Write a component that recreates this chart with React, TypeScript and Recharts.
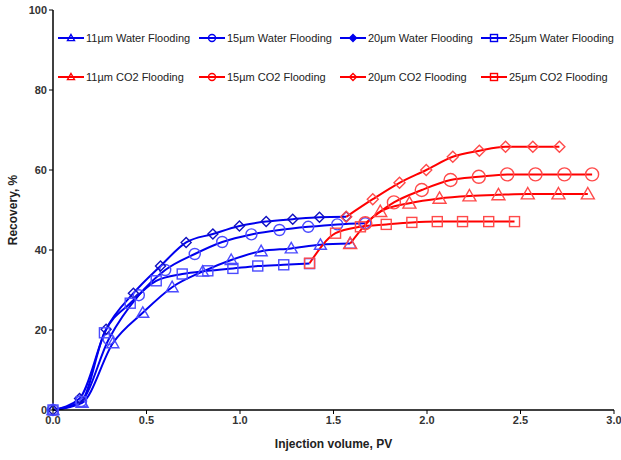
import React from "react";
import { LineChart, Line, XAxis, YAxis, Legend } from "recharts";

type Pt = { pv: number; rec: number };
const pts = (arr: number[][]): Pt[] => arr.map(([pv, rec]) => ({ pv, rec }));

// water flooding
const water11 = pts([[0, 0], [0.156, 1.8], [0.32, 16.7], [0.48, 24.3], [0.637, 30.7], [0.8, 34.6], [0.953, 37.5], [1.113, 39.7], [1.274, 40.4], [1.43, 41.3], [1.589, 41.6]]);
const water15 = pts([[0, 0], [0.15, 2.2], [0.298, 17.7], [0.459, 28.7], [0.6, 35], [0.758, 39], [0.905, 42], [1.061, 43.9], [1.211, 45], [1.365, 45.8], [1.52, 46.4], [1.67, 46.7]]);
const water20 = pts([[0, 0], [0.142, 2.9], [0.284, 20.2], [0.43, 29.2], [0.575, 36], [0.712, 41.9], [0.855, 44], [0.997, 46], [1.14, 47.1], [1.282, 47.7], [1.425, 48.2], [1.568, 48.3]]);
const water25 = pts([[0, 0], [0.151, 2.1], [0.275, 19.3], [0.413, 26.7], [0.552, 32.3], [0.691, 34], [0.828, 34.8], [0.962, 35.4], [1.095, 36], [1.234, 36.3], [1.372, 36.6]]);

// co2 flooding
const co211 = pts([[1.589, 41.6], [1.75, 49.6], [1.906, 51.7], [2.067, 52.9], [2.227, 53.5], [2.382, 53.8], [2.539, 54], [2.703, 54], [2.86, 54]]);
const co215 = pts([[1.67, 46.7], [1.823, 51.9], [1.972, 55], [2.126, 57.5], [2.277, 58.3], [2.429, 58.9], [2.58, 58.9], [2.735, 58.9], [2.883, 58.9]]);
const co220 = pts([[1.568, 48.3], [1.71, 52.7], [1.853, 56.8], [1.996, 60], [2.138, 63.3], [2.28, 64.8], [2.42, 65.8], [2.566, 65.8], [2.708, 65.8]]);
const co225 = pts([[1.372, 36.7], [1.511, 44.2], [1.644, 45.8], [1.782, 46.4], [1.919, 46.9], [2.055, 47.1], [2.19, 47.1], [2.33, 47.1], [2.468, 47.1]]);

const xTicks = [0, 0.5, 1, 1.5, 2, 2.5, 3];
const yTicks = [0, 20, 40, 60, 80, 100];

const BLUE = "#0000ee";
const BLUE_MK = "#4b4bff";
const RED = "#ff0000";
const RED_MK = "#ff4a4a";

type Shape = "triangle" | "circle" | "diamond" | "square";

function marker(shape: Shape, cx: number, cy: number, color: string, s: number, fill = "none", key?: React.Key) {
  const common = { stroke: color, strokeWidth: 1.4, fill, key };
  if (shape === "circle") return <circle cx={cx} cy={cy} r={s} {...common} />;
  if (shape === "square") return <rect x={cx - s} y={cy - s} width={2 * s} height={2 * s} {...common} />;
  if (shape === "diamond")
    return <polygon points={`${cx},${cy - s} ${cx + s},${cy} ${cx},${cy + s} ${cx - s},${cy}`} {...common} />;
  return <polygon points={`${cx},${cy - s} ${cx + s},${cy + s * 0.75} ${cx - s},${cy + s * 0.75}`} {...common} />;
}

const dotFn = (shape: Shape, color: string, s: number) => (p: any) =>
  marker(shape, p.cx, p.cy, color, s, "none", `d${p.index}`);

const series = [
  { name: "11µm Water Flooding", data: water11, shape: "triangle" as Shape, line: BLUE, mk: BLUE_MK, s: 6, legFill: "none" },
  { name: "15µm Water Flooding", data: water15, shape: "circle" as Shape, line: BLUE, mk: BLUE_MK, s: 5.5, legFill: "none" },
  { name: "20µm Water Flooding", data: water20, shape: "diamond" as Shape, line: BLUE, mk: "#1010c0", s: 5, legFill: BLUE },
  { name: "25µm Water Flooding", data: water25, shape: "square" as Shape, line: BLUE, mk: BLUE_MK, s: 5, legFill: "none" },
  { name: "11µm CO2 Flooding", data: co211, shape: "triangle" as Shape, line: RED, mk: RED_MK, s: 6.5, legFill: "none" },
  { name: "15µm CO2 Flooding", data: co215, shape: "circle" as Shape, line: RED, mk: RED_MK, s: 6.5, legFill: "none" },
  { name: "20µm CO2 Flooding", data: co220, shape: "diamond" as Shape, line: RED, mk: RED_MK, s: 5.5, legFill: "none" },
  { name: "25µm CO2 Flooding", data: co225, shape: "square" as Shape, line: RED, mk: RED_MK, s: 5, legFill: "none" },
];

const font = "'Liberation Sans', Arial, sans-serif";

const LegendBox = () => (
  <div style={{ display: "flex", flexWrap: "wrap", width: 570, fontFamily: font, fontSize: 11, color: "#222", rowGap: 27 }}>
    {series.map((s) => (
      <div key={s.name} style={{ width: 141, display: "flex", alignItems: "center", whiteSpace: "nowrap", height: 12 }}>
        <svg width={26} height={12} style={{ marginRight: 2 }}>
          <line x1={0} y1={6} x2={26} y2={6} stroke={s.line} strokeWidth={2} />
          {marker(s.shape, 13, 6, s.line, 3.5, s.legFill)}
        </svg>
        <span>{s.name}</span>
      </div>
    ))}
  </div>
);

export default function App() {
  return (
    <div style={{ position: "absolute", left: 0, top: 0, width: 621, height: 460, background: "#fff" }}>
      <LineChart width={621} height={460} margin={{ top: 10, right: 7, bottom: 0, left: 13 }}>
        <XAxis
          xAxisId="b"
          type="number"
          dataKey="pv"
          domain={[0, 3]}
          ticks={xTicks}
          tickFormatter={(v: number) => v.toFixed(1)}
          height={50}
          tick={{ fontSize: 11, fill: "#333", fontFamily: font, fontWeight: 600 }}
          tickSize={4}
          axisLine={{ stroke: "#000", strokeWidth: 1.5 }}
          tickLine={{ stroke: "#000" }}
          label={{ value: "Injection volume, PV", position: "insideBottom", offset: 12, fontSize: 12, fill: "#222", fontFamily: font, fontWeight: 600 }}
        />
        <XAxis xAxisId="t" orientation="top" type="number" domain={[0, 3]} height={0} tick={false} tickLine={false} axisLine={{ stroke: "#000", strokeWidth: 1.5 }} />
        <YAxis
          yAxisId="l"
          type="number"
          domain={[0, 100]}
          ticks={yTicks}
          width={40}
          tick={{ fontSize: 11, fill: "#333", fontFamily: font, fontWeight: 600 }}
          tickSize={4}
          axisLine={{ stroke: "#000", strokeWidth: 1.5 }}
          tickLine={{ stroke: "#000" }}
          label={{ value: "Recovery, %", angle: -90, position: "insideLeft", offset: 0, dx: 0, fontSize: 12, fill: "#222", fontFamily: font, fontWeight: 600, style: { textAnchor: "middle" } }}
        />
        <YAxis yAxisId="r" orientation="right" domain={[0, 100]} width={0} tick={false} tickLine={false} axisLine={{ stroke: "#000", strokeWidth: 1.5 }} />
        <Legend layout="horizontal" verticalAlign="middle" align="center" content={() => <LegendBox />} wrapperStyle={{ top: 32, left: 58, width: 570 }} />
        {series.map((s) => (
          <Line
            key={s.name}
            xAxisId="b"
            yAxisId="l"
            name={s.name}
            data={s.data}
            dataKey="rec"
            type="monotone"
            stroke={s.line}
            strokeWidth={2}
            dot={dotFn(s.shape, s.mk, s.s)}
            activeDot={false}
            isAnimationActive={false}
          />
        ))}
      </LineChart>
    </div>
  );
}
